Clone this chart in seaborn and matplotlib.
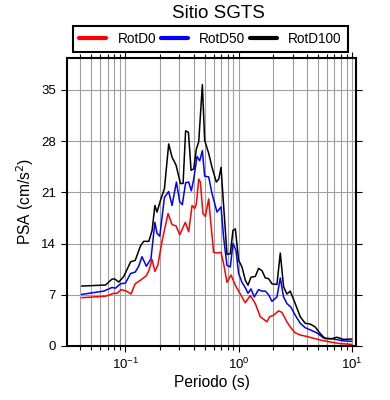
import pandas as pd
import matplotlib.pyplot as plt
import seaborn as sns

# periods (s) and PSA (cm/s2)
t_d100 = [0.041, 0.0667, 0.0762, 0.0805, 0.0873, 0.0967, 0.111, 0.122, 0.136, 0.145,
          0.161, 0.172, 0.182, 0.190, 0.204, 0.221, 0.241, 0.258, 0.280, 0.306,
          0.323, 0.340, 0.360, 0.380, 0.401, 0.423, 0.444, 0.478, 0.501, 0.544,
          0.582, 0.635, 0.667, 0.699, 0.738, 0.789, 0.844, 0.891, 0.935, 1.0,
          1.070, 1.145, 1.209, 1.285, 1.403, 1.500, 1.607, 1.719, 1.839, 1.968,
          2.179, 2.333, 2.495, 2.669, 2.856, 3.162, 3.500, 3.874, 4.288, 4.746,
          5.256, 5.818, 6.665, 7.375, 8.439, 10.0]
psa_d100 = [8.19, 8.33, 9.15, 9.15, 8.74, 9.5, 11.5, 11.7, 13.7, 14.3,
            14.3, 15.8, 19.2, 18.3, 19.9, 21.5, 27.6, 25.8, 24.7, 22.2,
            22.2, 29.4, 29.2, 24.0, 24.2, 26.9, 27.9, 35.7, 28.1, 26.3,
            24.4, 22.4, 22.8, 24.4, 19.0, 12.5, 12.6, 15.8, 16.0, 11.7,
            10.8, 9.0, 8.3, 9.4, 9.5, 10.6, 10.3, 9.3, 9.2, 8.5,
            8.4, 12.7, 8.1, 7.1, 7.5, 5.8, 4.0, 3.1, 3.0, 2.6,
            1.7, 1.0, 1.0, 1.2, 0.9, 0.95]

t_d50 = [0.041, 0.0644, 0.0762, 0.0816, 0.0903, 0.100, 0.111, 0.122, 0.131, 0.140,
         0.153, 0.168, 0.182, 0.190, 0.201, 0.221, 0.241, 0.258, 0.282, 0.302,
         0.318, 0.340, 0.362, 0.382, 0.401, 0.429, 0.453, 0.478, 0.501, 0.544,
         0.582, 0.644, 0.699, 0.738, 0.789, 0.844, 0.891, 0.947, 1.0, 1.070,
         1.161, 1.209, 1.285, 1.375, 1.500, 1.607, 1.719, 1.839, 1.968, 2.179,
         2.333, 2.495, 2.669, 2.897, 3.162, 3.500, 3.874, 4.288, 4.911, 5.623,
         6.894, 8.439, 10.0]
psa_d50 = [7.05, 7.5, 8.0, 7.9, 8.5, 8.6, 9.9, 10.1, 10.9, 12.2,
           10.9, 11.9, 16.9, 15.4, 15.0, 20.3, 21.1, 19.2, 22.4, 19.7,
           19.3, 22.3, 22.4, 21.2, 22.8, 25.9, 25.3, 26.7, 23.2, 23.1,
           20.8, 18.3, 19.0, 14.7, 11.0, 10.8, 14.0, 13.1, 9.9, 8.7,
           7.8, 7.2, 7.8, 6.7, 7.7, 7.5, 7.5, 7.0, 6.1, 6.7,
           9.3, 6.7, 5.8, 5.3, 4.2, 3.1, 2.5, 2.2, 1.8, 1.1,
           0.96, 0.7, 0.64]

t_d0 = [0.041, 0.0667, 0.0789, 0.0844, 0.0916, 0.102, 0.112, 0.122, 0.136, 0.153,
        0.161, 0.172, 0.182, 0.193, 0.211, 0.238, 0.258, 0.280, 0.302, 0.338,
        0.362, 0.388, 0.409, 0.423, 0.444, 0.459, 0.484, 0.508, 0.544, 0.562,
        0.601, 0.644, 0.699, 0.738, 0.789, 0.856, 0.935, 1.034, 1.145, 1.267,
        1.403, 1.553, 1.778, 1.878, 2.036, 2.254, 2.411, 2.669, 2.856, 3.162,
        3.500, 4.007, 4.746, 5.437, 6.437, 7.889, 10.0]
psa_d0 = [6.6, 6.8, 7.2, 7.2, 7.7, 7.5, 7.1, 8.5, 9.0, 9.6,
          10.3, 11.8, 10.2, 11.0, 14.4, 18.1, 16.6, 16.4, 15.2, 16.9,
          15.6, 19.2, 18.8, 19.4, 22.8, 22.4, 18.1, 17.7, 20.1, 17.6,
          12.8, 12.7, 12.8, 11.2, 8.7, 9.7, 8.3, 7.1, 5.9, 6.9,
          5.8, 4.0, 3.3, 4.0, 4.2, 4.8, 4.6, 3.3, 2.6, 1.8,
          1.5, 1.3, 1.0, 0.77, 0.55, 0.32, 0.23]

names = ['RotD0', 'RotD50', 'RotD100']
colors = ['red', 'blue', 'black']
y_ticks = [0, 7, 14, 21, 28, 35]

data = pd.concat([
    pd.DataFrame({'T': t_d0, 'PSA': psa_d0, 'comp': 'RotD0'}),
    pd.DataFrame({'T': t_d50, 'PSA': psa_d50, 'comp': 'RotD50'}),
    pd.DataFrame({'T': t_d100, 'PSA': psa_d100, 'comp': 'RotD100'}),
])

sns.set_style('ticks')
plt.rcParams['font.family'] = ['Liberation Sans', 'DejaVu Sans']
plt.rcParams['text.color'] = 'black'
plt.rcParams['axes.labelcolor'] = 'black'

fig = plt.figure(figsize=(3.9, 4.0), dpi=100)
ax = fig.add_axes([0.172, 0.135, 0.741, 0.721])

sns.lineplot(data=data, x='T', y='PSA', hue='comp', hue_order=names,
             palette=colors, estimator=None, sort=False, lw=1.1, ax=ax)

ax.set_xscale('log')
ax.set_xlim(0.0305, 10.9)
ax.set_ylim(0, 39.4)
ax.set_yticks(y_ticks)
ax.grid(True, which='both', axis='x', color='#a0a0a0', lw=0.8)
ax.grid(True, which='major', axis='y', color='#a0a0a0', lw=0.8)
ax.set_axisbelow(True)
for s in ax.spines.values():
    s.set_linewidth(1.5)
    s.set_color('black')
ax.tick_params(which='both', direction='out', top=True, right=True, colors='black',
               labelsize=9.5, width=0.8)
ax.tick_params(which='major', length=4.5)
ax.tick_params(which='minor', length=3)

ax.set_xlabel('Periodo (s)', fontsize=11.2, labelpad=2)
ax.set_ylabel('PSA (cm/s$^2$)', fontsize=11.2, labelpad=4)
fig.text(0.56, 0.967, 'Sitio SGTS', ha='center', va='center', fontsize=13.5)

handles, labels = ax.get_legend_handles_labels()
for h in handles:
    h.set_linewidth(3)
leg = ax.legend(handles, labels, ncol=3, loc='lower left', mode='expand',
                bbox_to_anchor=(0.021, 1.019, 0.951, 0.079), fontsize=9.8,
                frameon=True, fancybox=False, edgecolor='black', framealpha=1,
                handlelength=2.0, borderaxespad=0, borderpad=0.45, handletextpad=0.8)
leg.get_frame().set_linewidth(1.5)

fig.savefig('out.png', dpi=100)
